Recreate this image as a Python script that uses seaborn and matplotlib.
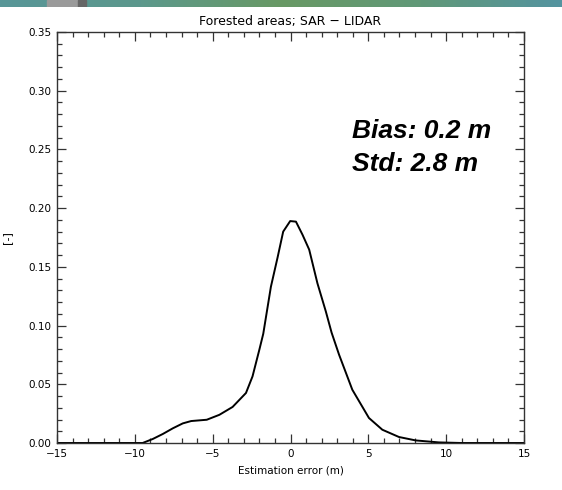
import numpy as np
import pandas as pd
import matplotlib
matplotlib.use("Agg")
import matplotlib.pyplot as plt
import seaborn as sns
from matplotlib.ticker import MultipleLocator, FixedLocator, FixedFormatter

# Data
err = [-15.0, -12.0, -9.5, -8.85, -8.2, -7.56, -6.92, -6.38, -5.38, -4.57, -3.72,
       -2.86, -2.44, -2.0, -1.75, -1.26, -0.83, -0.47, -0.02, 0.35, 0.77, 1.2,
       1.73, 2.27, 2.64, 3.12, 3.97, 5.04, 5.9, 6.97, 8.04, 9.53, 11.0, 13.0, 15.0]
freq = [0.0, 0.0, 0.0, 0.0034, 0.0077, 0.0125, 0.0167, 0.0187, 0.0198, 0.024, 0.0307,
        0.0426, 0.0567, 0.0795, 0.093, 0.133, 0.158, 0.180, 0.189, 0.1885, 0.1774, 0.1647,
        0.136, 0.112, 0.094, 0.0752, 0.0454, 0.0213, 0.0113, 0.0051, 0.0022, 0.0005, 0.0, 0.0, 0.0]

xticks = [-15, -10, -5, 0, 5, 10, 15]
xticklabels = ["\u221215", "\u221210", "\u22125", "0", "5", "10", "15"]
yticks = [0.00, 0.05, 0.10, 0.15, 0.20, 0.25, 0.30, 0.35]
yticklabels = ["0.00", "0.05", "0.10", "0.15", "0.20", "0.25", "0.30", "0.35"]

title = "Forested areas; SAR \u2212 LIDAR"
xlabel = "Estimation error (m)"
ylabel = "[-]"
annot_lines = ["Bias: 0.2 m", "Std: 2.8 m"]

sns.set_theme(style="white")
plt.rcParams['font.family'] = ['DejaVu Sans']
plt.rcParams['text.color'] = 'black'
plt.rcParams['axes.labelcolor'] = 'black'

fig = plt.figure(figsize=(5.62, 4.90), dpi=100)
ax = fig.add_axes([57/562, 1-443/490, (524-57)/562, (443-32)/490])

df = pd.DataFrame({"err": err, "freq": freq})
sns.lineplot(data=df, x="err", y="freq", ax=ax, color="black", linewidth=1.4)

ax.set_xlim(-15, 15)
ax.set_ylim(0, 0.35)
ax.xaxis.set_major_locator(FixedLocator(xticks))
ax.xaxis.set_major_formatter(FixedFormatter(xticklabels))
ax.yaxis.set_major_locator(FixedLocator(yticks))
ax.yaxis.set_major_formatter(FixedFormatter(yticklabels))
ax.xaxis.set_minor_locator(MultipleLocator(1))
ax.yaxis.set_minor_locator(MultipleLocator(0.01))
ax.tick_params(which="both", direction="in", top=True, right=True, bottom=True, left=True,
               color="#333333", width=0.9, labelsize=7.5, labelcolor="black", pad=4)
ax.tick_params(which="major", length=6.5)
ax.tick_params(which="minor", length=3.5)
for s in ax.spines.values():
    s.set_color("#333333")
    s.set_linewidth(1.0)

ax.set_title(title, fontsize=9, pad=5, color="black")
ax.set_xlabel(xlabel, fontsize=7.5, labelpad=5)
ax.set_ylabel(ylabel, fontsize=8)
ax.yaxis.set_label_coords((12 - 57) / 467, 0.5)

for i, line in enumerate(annot_lines):
    base_px = 138 + i * 33
    ax.text((352 - 57) / 467, (443 - base_px) / 411, line, transform=ax.transAxes,
            ha="left", va="baseline", fontsize=19, fontweight="bold", fontstyle="italic",
            family="Liberation Sans", color="black")

# top decorative band
band = fig.add_axes([0, 1-7/490, 1, 7/490])
cols = np.array([[88, 150, 152], [92, 152, 140], [104, 152, 100], [96, 152, 120], [84, 148, 160]]) / 255
pos = np.linspace(0, 1, len(cols))
xs = np.linspace(0, 1, 562)
grad = np.stack([np.interp(xs, pos, cols[:, i]) for i in range(3)], axis=-1)[None, :, :]
band.imshow(grad, aspect="auto", extent=[0, 562, 0, 1])
band.add_patch(plt.Rectangle((47, 0), 31, 1, color="#9a9a9a"))
band.add_patch(plt.Rectangle((78, 0), 8, 1, color="#666666"))
band.set_xlim(0, 562)
band.set_ylim(0, 1)
band.axis("off")

fig.savefig("out.png", dpi=100)
